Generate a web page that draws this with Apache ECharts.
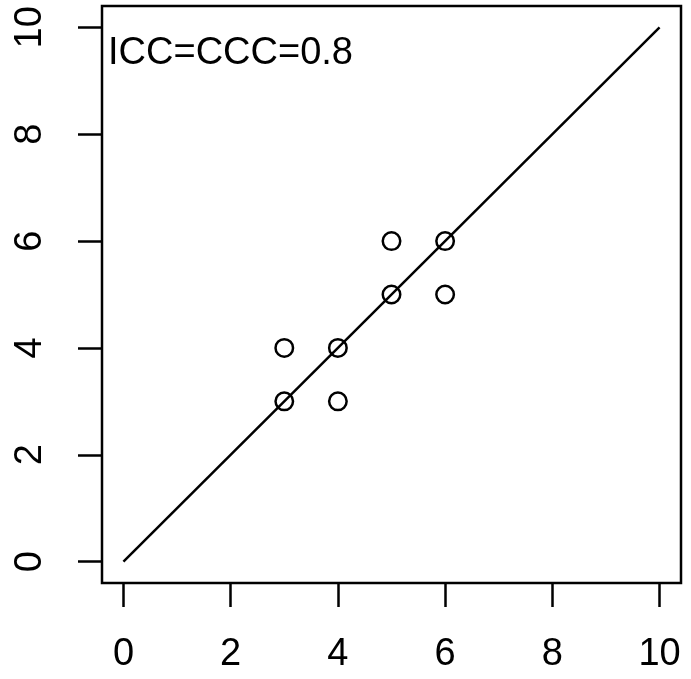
<!DOCTYPE html>
<html>
<head>
<meta charset="utf-8">
<script src="https://cdn.jsdelivr.net/npm/echarts@6/dist/echarts.min.js"></script>
<style>
  html, body { margin: 0; padding: 0; background: #fff; }
  #chart { width: 691px; height: 679px; }
</style>
</head>
<body>
<div id="chart"></div>
<script>
// Paired ratings from two raters
const raterA = [3, 3, 4, 4, 5, 5, 6, 6];
const raterB = [3, 4, 4, 3, 5, 6, 6, 5];
// Line of perfect agreement
const identityLine = [[0, 0], [10, 10]];
const tickValues = [0, 2, 4, 6, 8, 10];
const annotation = 'ICC=CCC=0.8';

const points = raterA.map((a, i) => [a, raterB[i]]);
const FONT = 'Liberation Sans, Arial, sans-serif';

const chart = echarts.init(document.getElementById('chart'), null, { renderer: 'canvas' });

const axisCommon = {
  type: 'value',
  min: -0.4,
  max: 10.4,
  splitLine: { show: false },
  axisLine: { show: false, onZero: false },
  axisTick: {
    show: true,
    inside: false,
    length: 24,
    lineStyle: { color: '#000', width: 2.5 },
    customValues: tickValues
  }
};

chart.setOption({
  animation: false,
  backgroundColor: '#fff',
  grid: {
    left: 102, right: 10, top: 6, bottom: 96,
    show: true,
    borderColor: '#000',
    borderWidth: 2.5,
    backgroundColor: 'transparent'
  },
  xAxis: Object.assign({}, axisCommon, {
    axisLabel: {
      customValues: tickValues,
      color: '#000',
      fontSize: 38,
      fontFamily: FONT,
      margin: 53
    }
  }),
  yAxis: Object.assign({}, axisCommon, {
    axisLabel: {
      customValues: tickValues,
      color: '#000',
      fontSize: 38,
      fontFamily: FONT,
      rotate: 90,
      margin: 52
    }
  }),
  graphic: [{
    type: 'text',
    left: 108,
    top: 35,
    style: {
      text: annotation,
      fill: '#000',
      font: '38px ' + FONT
    }
  }],
  series: [
    {
      type: 'line',
      data: identityLine,
      showSymbol: false,
      lineStyle: { color: '#000', width: 2.5 },
      z: 2
    },
    {
      type: 'scatter',
      data: points,
      symbol: 'circle',
      symbolSize: 17.5,
      itemStyle: { color: 'transparent', borderColor: '#000', borderWidth: 2.5, opacity: 1 },
      z: 3
    }
  ]
});
</script>
</body>
</html>
